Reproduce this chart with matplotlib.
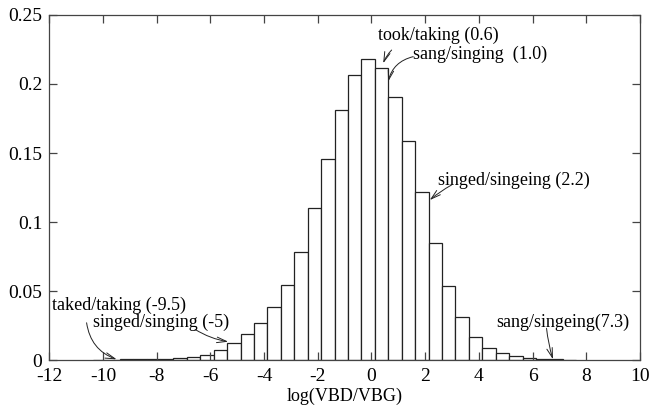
import matplotlib
matplotlib.use("Agg")
import matplotlib.pyplot as plt
import numpy as np

# histogram bins: left edges (width 0.5) and relative frequencies
bin_left = [-10.375, -9.875, -9.375, -8.875, -8.375, -7.875, -7.375, -6.875,
            -6.375, -5.875, -5.375, -4.875, -4.375, -3.875, -3.375, -2.875,
            -2.375, -1.875, -1.375, -0.875, -0.375, 0.125, 0.625, 1.125,
            1.625, 2.125, 2.625, 3.125, 3.625, 4.125, 4.625, 5.125,
            5.625, 6.125, 6.625, 7.125]
freq = [0.0003, 0.0003, 0.0004, 0.0005, 0.0007, 0.0010, 0.0016, 0.0025,
        0.0038, 0.0072, 0.0121, 0.0188, 0.0266, 0.0382, 0.0543, 0.0780,
        0.1100, 0.1460, 0.1810, 0.2065, 0.2180, 0.2114, 0.1908, 0.1587,
        0.1220, 0.0850, 0.0536, 0.0310, 0.0167, 0.0087, 0.0048, 0.0027,
        0.0012, 0.0007, 0.0005, 0.0003]
bin_width = 0.5

x_ticks = list(range(-12, 11, 2))
y_ticks = [0, 0.05, 0.1, 0.15, 0.2, 0.25]
y_tick_labels = ["0", "0.05", "0.1", "0.15", "0.2", "0.25"]

# (label, text position, arrow start, arrow tip, curvature)
notes = [
    ("took/taking (0.6)", (0.26, 0.235), (0.75, 0.2246), (0.436, 0.215), 0.1),
    ("sang/singing  (1.0)", (1.53, 0.2217), (1.55, 0.2198), (0.62, 0.2017), 0.3),
    ("singed/singeing (2.2)", (2.46, 0.1304), (2.98, 0.1268), (2.17, 0.1159), 0.05),
    ("taked/taking (-9.5)", (-11.91, 0.0399), (-10.61, 0.027), (-9.49, 0.0005), 0.3),
    ("singed/singing (-5)", (-10.37, 0.0272), (-6.57, 0.0222), (-5.335, 0.0133), 0.1),
    ("sang/singeing(7.3)", (4.66, 0.0272), (6.52, 0.023), (6.76, 0.0005), 0.05),
]

plt.rcParams["font.family"] = ["Liberation Serif", "DejaVu Serif"]

fig = plt.figure(figsize=(6.5, 4.05), dpi=100)
ax = fig.add_axes([0.0758, 0.111, 0.9088, 0.852])

ax.bar(bin_left, freq, width=bin_width, align="edge", color="white",
       edgecolor="#222222", linewidth=0.9)

ax.set_xlim(-12, 10)
ax.set_ylim(0, 0.25)
ax.set_xticks(x_ticks)
ax.set_xticklabels([str(t) for t in x_ticks])
ax.set_yticks(y_ticks)
ax.set_yticklabels(y_tick_labels)
ax.tick_params(direction="in", length=6, width=0.9, color="#444444",
               top=True, right=True, labelsize=14, pad=5)
ax.tick_params(axis="x", pad=6)
for s in ax.spines.values():
    s.set_linewidth(0.9)
    s.set_color("#444444")

ax.set_xlabel("log(VBD/VBG)", fontsize=13, labelpad=2)

for label, tpos, start, tip, rad in notes:
    ax.text(tpos[0], tpos[1], label, fontsize=13, ha="left", va="center")
    ax.annotate("", xy=tip, xytext=start,
                arrowprops=dict(arrowstyle="->,head_length=0.7,head_width=0.2",
                                color="#222222", lw=0.7,
                                shrinkA=0, shrinkB=0,
                                connectionstyle=f"arc3,rad={rad}"))

fig.savefig("out.png", dpi=100)
